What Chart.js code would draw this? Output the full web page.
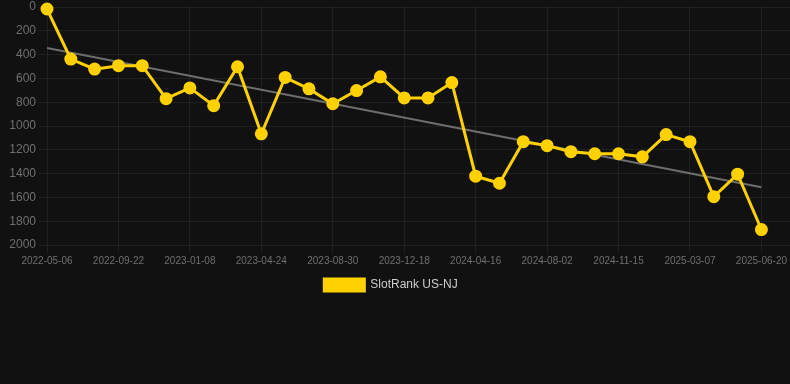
<!DOCTYPE html>
<html>
<head>
<meta charset="utf-8">
<script src="https://cdn.jsdelivr.net/npm/chart.js@4.4.1/dist/chart.umd.min.js"></script>
<style>
  html, body { margin: 0; padding: 0; background: #111111; }
  #wrap { width: 790px; height: 301px; position: relative; }
</style>
</head>
<body>
<div id="wrap"><canvas id="c"></canvas></div>
<script>
const dates = [
  "2022-05-06","2022-06-21","2022-08-06","2022-09-22","2022-10-28","2022-12-03",
  "2023-01-08","2023-02-12","2023-03-19","2023-04-24","2023-06-05","2023-07-18",
  "2023-08-30","2023-10-06","2023-11-12","2023-12-18","2024-01-27","2024-03-07",
  "2024-04-16","2024-05-22","2024-06-27","2024-08-02","2024-09-06","2024-10-11",
  "2024-11-15","2024-12-22","2025-01-28","2025-03-07","2025-04-11","2025-05-16",
  "2025-06-20"
];
const rankValues = [
  17, 438, 522, 493, 493, 770, 680, 829, 502, 1066, 592, 688, 813, 702, 587, 764,
  764, 635, 1422, 1481, 1132, 1165, 1216, 1233, 1233, 1259, 1072, 1132, 1594, 1405, 1870
];
const trendIndex = [0, 30];
const trendValues = [344, 1515];
const yTicks = [0, 200, 400, 600, 800, 1000, 1200, 1400, 1600, 1800, 2000];
const labelEvery = 3;

const seriesPoints = rankValues.map((v, i) => ({ x: i, y: v }));
const trendPoints = trendIndex.map((x, i) => ({ x: x, y: trendValues[i] }));

const legendShift = {
  id: 'legendShift',
  afterLayout(chart) {
    if (chart.legend) { chart.legend.left -= 4; chart.legend.right -= 4; }
  }
};

new Chart(document.getElementById('c'), {
  type: 'line',
  plugins: [legendShift],
  data: {
    datasets: [
      {
        label: 'SlotRank US-NJ',
        data: seriesPoints,
        borderColor: '#FFD100',
        backgroundColor: '#FFD100',
        pointBackgroundColor: '#FFD100',
        pointBorderColor: '#FFD100',
        borderWidth: 3,
        pointRadius: 5,
        tension: 0,
        clip: false,
        order: 1
      },
      {
        label: 'trend',
        data: trendPoints,
        borderColor: '#6e6e6e',
        borderWidth: 2,
        pointRadius: 0,
        tension: 0,
        order: 2
      }
    ]
  },
  options: {
    responsive: true,
    maintainAspectRatio: false,
    animation: false,
    layout: { autoPadding: false, padding: { left: 0, right: 0, top: 0, bottom: 0 } },
    plugins: {
      legend: {
        position: 'bottom',
        labels: {
          color: '#cccccc',
          font: { size: 12, family: 'Liberation Sans, Arial, sans-serif' },
          boxWidth: 40,
          boxHeight: 12,
          filter: (item) => item.text !== 'trend'
        }
      },
      tooltip: { enabled: false }
    },
    scales: {
      x: {
        type: 'linear',
        min: 0,
        max: 31.2,
        afterBuildTicks: (scale) => {
          scale.ticks = dates.map((d, i) => i).filter(i => i % labelEvery === 0).map(v => ({ value: v }));
        },
        afterFit: (scale) => { scale.paddingRight = 0; scale.paddingLeft = 0; },
        ticks: {
          color: '#6f6f6f',
          font: { size: 10, family: 'Liberation Sans, Arial, sans-serif' },
          maxRotation: 0,
          autoSkip: false,
          padding: 2,
          callback: (v) => dates[v]
        },
        grid: { color: 'rgba(255,255,255,0.06)', tickLength: 8 },
        border: { display: false }
      },
      y: {
        reverse: true,
        min: 0,
        max: 2000,
        afterBuildTicks: (scale) => {
          scale.ticks = yTicks.map(v => ({ value: v }));
        },
        afterFit: (scale) => { scale.width = 47; scale.paddingTop = 7; scale.paddingBottom = 0; },
        ticks: {
          color: '#6f6f6f',
          font: { size: 12, family: 'Liberation Sans, Arial, sans-serif' },
          padding: 3,
          callback: (v) => String(v)
        },
        grid: { color: 'rgba(255,255,255,0.06)', tickLength: 8 },
        border: { display: false }
      }
    }
  }
});
</script>
</body>
</html>
